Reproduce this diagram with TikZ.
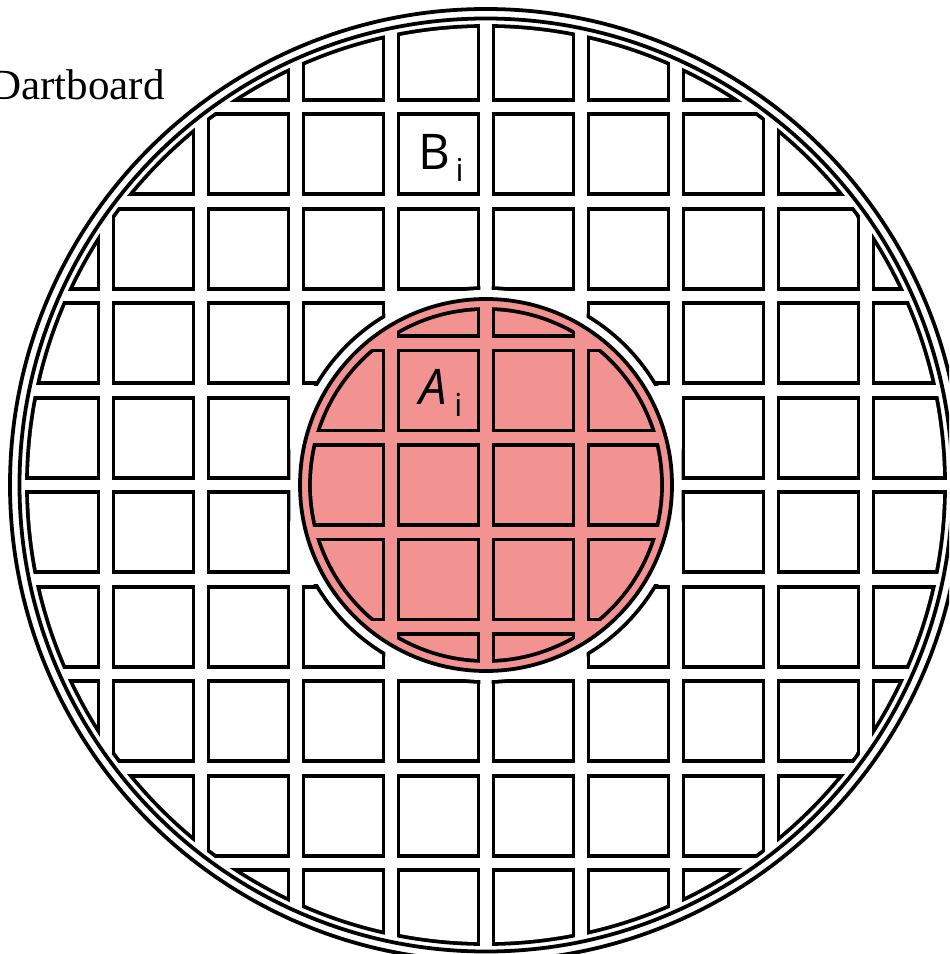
\documentclass[tikz,border=0pt]{standalone}
\usepackage{fontspec}
\setmainfont{Liberation Serif}
\newfontfamily\handfont{Open Sans}
\usepackage{xcolor}
\usepackage{tikz}
\usetikzlibrary{positioning}
\definecolor{boardred}{RGB}{242,147,145}
\tikzset{
  boardline/.style={draw=black, line width=2.15pt},
  cellblack/.style={fill=black},
  cellwhite/.style={fill=white},
  cellred/.style={fill=boardred},
  celllabel/.style={font=\handfont\fontsize{28}{28}\selectfont, inner sep=0pt},
  titlelabel/.style={font=\fontsize{24.5}{24.5}\selectfont, inner sep=0pt, anchor=base east},
}

\begin{document}
\begin{tikzpicture}[x=0.2mm, y=-0.2mm]
  \clip (0,0) rectangle (949,954);
  \coordinate (ctr) at (486,485);

  % Outer grid B (clipped by the board edge, cells swallowed by the hole left out)
  \begin{scope}
    \clip (ctr) circle (460.9);
    \foreach \i in {-5,...,4}
      \foreach \j in {-5,...,4} {
        \pgfmathtruncatemacro\keep{abs(\i+0.5)+abs(\j+0.5)>2}
        \ifnum\keep=1
          \fill[cellblack] ({486+95*(\i+0.5)-41.9},{485+94.5*(\j+0.5)-41.9}) rectangle ++(83.8,83.8);
        \fi
      }
  \end{scope}
  \begin{scope}
    \clip (ctr) circle (457.1);
    \foreach \i in {-5,...,4}
      \foreach \j in {-5,...,4}
        \fill[cellwhite] ({486+95*(\i+0.5)-38.1},{485+94.5*(\j+0.5)-38.1}) rectangle ++(76.2,76.2);
  \end{scope}

  % Hole round the red disk
  \foreach \i in {-3,...,2}
    \foreach \j in {-3,...,2} {
      \pgfmathtruncatemacro\keep{abs(\i+0.5)+abs(\j+0.5)>2}
      \ifnum\keep=1
        \begin{scope}
          \clip ({486+95*(\i+0.5)-41.9},{485+94.5*(\j+0.5)-41.9}) rectangle ++(83.8,83.8);
          \fill[cellblack] (ctr) circle (198.9);
        \end{scope}
      \fi
    }
  \fill[cellwhite] (ctr) circle (195.1);

  % Red disk with grid A
  \draw[boardline, fill=boardred] (ctr) circle (186);
  \begin{scope}
    \clip (ctr) circle (177.9);
    \foreach \i in {-2,...,1}
      \foreach \j in {-2,...,2}
        \fill[cellblack] ({486+95*(\i+0.5)-41.9},{485+94.5*\j-41.9}) rectangle ++(83.8,83.8);
  \end{scope}
  \begin{scope}
    \clip (ctr) circle (174.1);
    \foreach \i in {-2,...,1}
      \foreach \j in {-2,...,2}
        \fill[cellred] ({486+95*(\i+0.5)-38.1},{485+94.5*\j-38.1}) rectangle ++(76.2,76.2);
  \end{scope}

  % Board edge
  \draw[boardline] (ctr) circle (476);
  \draw[boardline] (ctr) circle (466.5);

  % Labels
  \node[titlelabel] (title) at (165,100) {Dartboard};
  \node[celllabel] (blabel) at (441,158) {B\hspace{3pt}\raisebox{-7pt}{\fontsize{18}{18}\selectfont i}};
  \node[celllabel] (alabel) at (441,393) {\itshape A\hspace{4pt}\raisebox{-7pt}{\fontsize{18}{18}\selectfont\upshape i}};
\end{tikzpicture}
\end{document}
